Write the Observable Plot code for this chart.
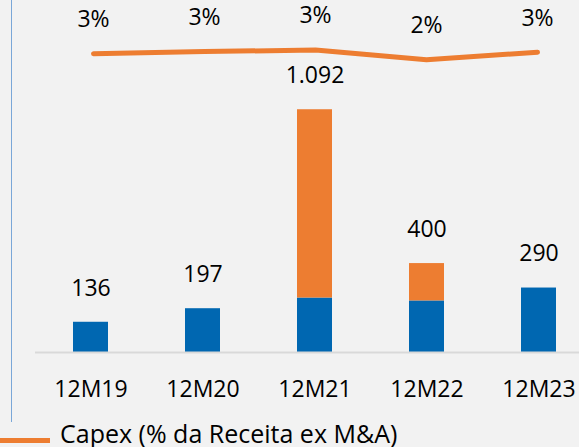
<!DOCTYPE html>
<html>
<head>
<meta charset="utf-8">
<script src="https://cdn.jsdelivr.net/npm/d3@7"></script>
<script src="https://cdn.jsdelivr.net/npm/@observablehq/plot@0.6"></script>
<style>
  html, body { margin: 0; padding: 0; background: #f2f2f2; }
  #wrap { position: relative; width: 579px; height: 447px; overflow: hidden; background: #f2f2f2; font-family: "Open Sans", sans-serif; }
  #bars, #line { position: absolute; left: 0; top: 0; }
  #vline { position: absolute; left: 11px; top: 0; width: 1px; height: 422px; background: #7aa7d8; }
  #legend .sw { position: absolute; left: 0; top: 437.5px; width: 50px; height: 5px; background: #ed7d31; }
  #legend .lb { position: absolute; left: 60px; top: 421px; font-size: 25px; line-height: 25px; color: #000; white-space: nowrap; }
</style>
</head>
<body>
<div id="wrap">
  <div id="vline"></div>
  <div id="bars"></div>
  <div id="line"></div>
  <div id="legend"><div class="sw"></div><div class="lb">Capex (% da Receita ex M&amp;A)</div></div>
</div>
<script>
const categories = ["12M19", "12M20", "12M21", "12M22", "12M23"];
const capexOrganic = [136, 197, 245, 232, 290];
const capexMA = [0, 0, 847, 168, 0];
const totals = [136, 197, 1092, 400, 290];
const capexPct = [2.78, 2.93, 3.03, 2.38, 2.89];
const seriesNames = ["Orgânico", "M&A"];

const ptBR = d3.formatLocale({decimal: ",", thousands: ".", grouping: [3], currency: ["R$", ""]});
const fmt = ptBR.format(",d");

const stacked = [];
categories.forEach((c, i) => {
  stacked.push({cat: c, serie: seriesNames[0], value: capexOrganic[i]});
  stacked.push({cat: c, serie: seriesNames[1], value: capexMA[i]});
});
const totalRows = categories.map((c, i) => ({cat: c, total: totals[i]}));
const pctRows = categories.map((c, i) => ({cat: c, pct: capexPct[i]}));

const xScale = {domain: categories, range: [35, 594], paddingInner: 0.6875, paddingOuter: 0.339};

const bars = Plot.plot({
  width: 579,
  height: 420,
  marginLeft: 35,
  marginRight: 0,
  marginTop: 63,
  marginBottom: 68,
  style: {background: "transparent", fontFamily: "Open Sans, sans-serif", color: "#000"},
  x: {...xScale, axis: null},
  y: {domain: [0, 1300], axis: null},
  color: {domain: seriesNames, range: ["#0067b1", "#ed7d31"]},
  marks: [
    Plot.barY(stacked, {x: "cat", y: "value", fill: "serie"}),
    Plot.ruleY([0], {stroke: "#d9d9d9", strokeWidth: 2}),
    Plot.text(totalRows, {x: "cat", y: "total", text: d => fmt(d.total), dy: -34, fontSize: 23, fill: "#000"}),
    Plot.axisX({tickSize: 0, tickPadding: 28, fontSize: 23, fill: "#000", label: null})
  ]
});
document.getElementById("bars").appendChild(bars);

const line = Plot.plot({
  width: 579,
  height: 100,
  marginLeft: 35,
  marginRight: 0,
  marginTop: 35,
  marginBottom: 5,
  style: {background: "transparent", fontFamily: "Open Sans, sans-serif", overflow: "visible"},
  x: {...xScale, axis: null},
  y: {domain: [0, 4], axis: null},
  marks: [
    Plot.line(pctRows, {x: "cat", y: "pct", stroke: "#ed7d31", strokeWidth: 5, strokeLinecap: "round", strokeLinejoin: "round"}),
    Plot.text(pctRows, {x: "cat", y: "pct", text: d => Math.round(d.pct) + "%", dy: -34, fontSize: 23, fill: "#000"})
  ]
});
document.getElementById("line").appendChild(line);
</script>
</body>
</html>
